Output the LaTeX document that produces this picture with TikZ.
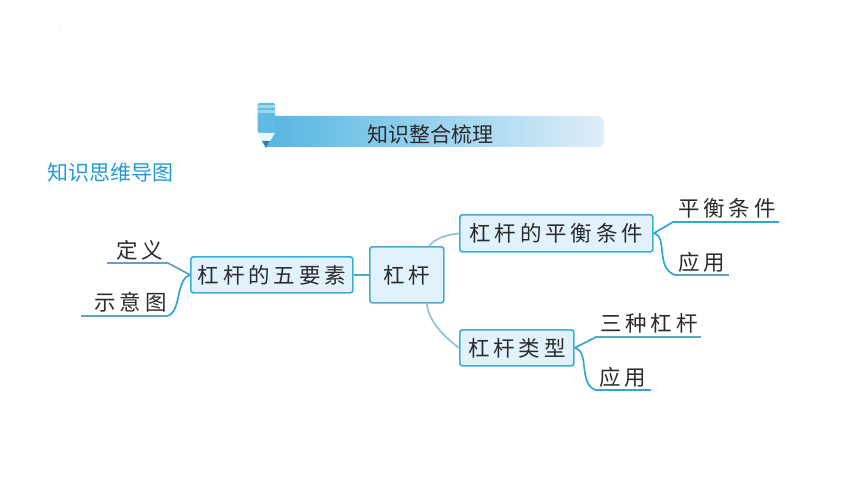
\documentclass[tikz,border=0pt]{standalone}
\usepackage{fontspec}
\newfontfamily\cjk{Noto Sans CJK SC}
\newfontfamily\cjkspaced[LetterSpace=18]{Noto Sans CJK SC}
\definecolor{boxline}{HTML}{3FAFD9}
\definecolor{boxfill}{HTML}{E1F2FC}
\definecolor{linkpale}{HTML}{8CC4DC}
\definecolor{linkmid}{HTML}{4FA6CB}
\definecolor{leafblue}{HTML}{33A6D6}
\definecolor{leafgrey}{HTML}{5FA3BC}
\definecolor{textdark}{HTML}{2B2B2B}
\definecolor{headblue}{HTML}{1E9CD7}
\definecolor{bannerleft}{HTML}{55B6E1}
\definecolor{bannerright}{HTML}{DDEEF9}
\definecolor{pencilbody}{HTML}{5DBBE4}
\definecolor{pencilcap}{HTML}{A0D6EE}
\definecolor{pencilwood}{HTML}{EBF5FA}
\definecolor{pencilnib}{HTML}{2687AA}
\tikzset{
  x=1pt,y=-1pt,
  mapbox/.style={draw=boxline,line width=1.7pt,fill=boxfill,rounded corners=2.5pt,inner sep=0pt,anchor=north west,text=textdark,font=\cjkspaced\fontsize{21.5}{25}\selectfont},
  leaftext/.style={inner sep=0pt,text=textdark,font=\cjkspaced\fontsize{21.5}{25}\selectfont},
  leafline/.style={line width=1.7pt,draw=leafblue},
  leaflinegrey/.style={line width=1.7pt,draw=leafgrey},
  palelink/.style={line width=1.7pt,draw=linkpale},
}
\newcommand{\mapbox}[6]{\node[mapbox,minimum width=#3pt,minimum height=#4pt] (#5) at (#1,#2) {#6};}
\begin{document}
\begin{tikzpicture}
\useasboundingbox (0,0) rectangle (860,484);
\fill[white] (0,0) rectangle (860,484);
\fill[black!60] (59,26) circle (0.4);
% banner
\shade[left color=bannerleft,right color=bannerright]
  (265,116) -- (600,116) -- (604,121) -- (604,143) -- (600,147) -- (265,147) -- cycle;
\node[inner sep=0pt,text=textdark,font=\cjk\fontsize{21}{25}\selectfont] (title) at (430,134) {知识整合梳理};
% pencil
\fill[rounded corners=1.5pt,fill=pencilbody] (257.5,103) -- (275,103) -- (275,133) -- (257.5,133) -- cycle;
\fill[fill=pencilcap] (258,105) rectangle (275,108);
\fill[fill=pencilcap] (258,110) rectangle (275,113);
\fill[fill=pencilwood] (257.5,133) -- (275,133) -- (266,148) -- cycle;
\fill[fill=pencilnib] (262,141) -- (270,141) -- (266,148) -- cycle;
\node[inner sep=0pt,anchor=west,text=headblue,font=\cjk\fontsize{21}{25}\selectfont] (head) at (47,173) {知识思维导图};
% boxes
\mapbox{369}{246}{74}{56}{root}{杠杆}
\mapbox{190}{256}{162}{36}{five}{杠杆的五要素}
\mapbox{459}{214}{193}{37}{balance}{杠杆的平衡条件}
\mapbox{459}{329}{114}{36}{kinds}{杠杆类型}
% leaf texts
\node[leaftext] (t1) at (140,250) {定义};
\node[leaftext] (t2) at (130.5,302) {示意图};
\node[leaftext] (t3) at (727,208) {平衡条件};
\node[leaftext] (t4) at (702,262) {应用};
\node[leaftext] (t5) at (649,323) {三种杠杆};
\node[leaftext] (t6) at (623,377) {应用};
% free ends
\coordinate (e1) at (107,263); \coordinate (k1) at (168,263);
\coordinate (e2) at (81,316); \coordinate (k2) at (167,316);
\coordinate (e3) at (779,222); \coordinate (k3) at (673,222);
\coordinate (e4) at (729,275); \coordinate (k4) at (675,275);
\coordinate (e5) at (701,337); \coordinate (k5) at (596,337);
\coordinate (e6) at (651,390); \coordinate (k6) at (596,390);
% links
\draw[line width=1.7pt,draw=linkmid] (five.east) -- (root.west);
\draw[palelink] ([xshift=60pt]root.north west) .. controls (436,238) and (446,235) .. (balance.west);
\draw[palelink] ([xshift=58pt]root.south west) .. controls (428,320) and (443,336) .. (kinds.west);
\draw[leaflinegrey] (e1) -- (k1) -- (five.west);
\draw[leaflinegrey] (e2) -- (k2);
\draw[leafline] (k2) .. controls (182,312) and (175,280) .. (five.west);
\draw[leafline] (e3) -- (k3) -- (balance.east);
\draw[leaflinegrey] (k4) -- (e4);
\draw[leafline] (balance.east) .. controls (668,236) and (655,268) .. (k4);
\draw[leaflinegrey] (e5) -- (k5);
\draw[leafline] (k5) -- (kinds.east);
\draw[leafline] (e6) -- (k6) .. controls (578,385) and (590,351) .. (kinds.east);
\end{tikzpicture}
\end{document}
